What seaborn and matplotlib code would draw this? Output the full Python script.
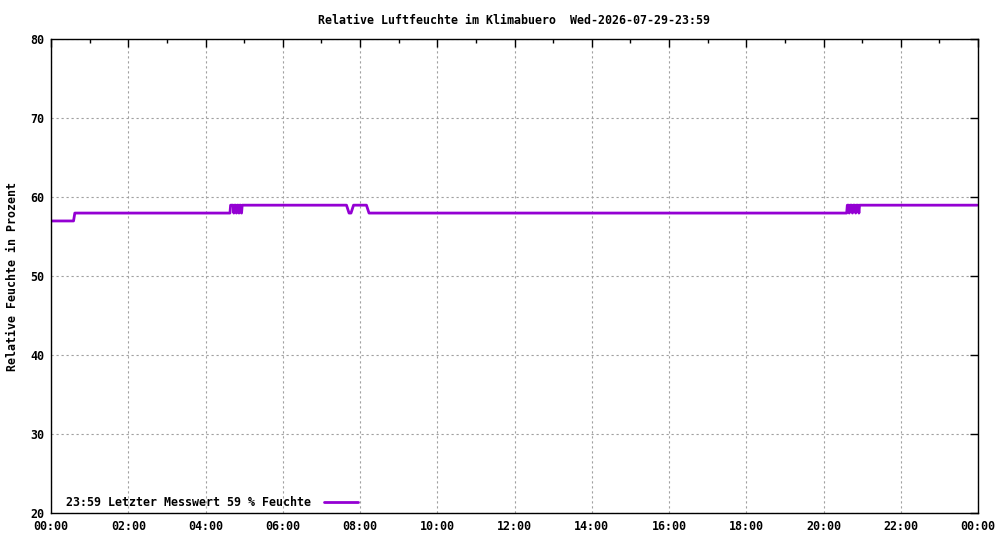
import pandas as pd
import seaborn as sns
import matplotlib.pyplot as plt
from matplotlib.ticker import MultipleLocator, FuncFormatter

# breakpoints of the humidity curve (time of day, percent)
zeiten = ['00:00', '00:35', '00:37', '04:38', '04:39', '04:43', '04:44', '04:45',
          '04:47', '04:48', '04:49', '04:51', '04:52', '04:53', '04:55', '04:56',
          '04:57', '07:39', '07:43', '07:46', '07:50', '08:10', '08:14', '20:36',
          '20:37', '20:39', '20:40', '20:41', '20:44', '20:45', '20:46', '20:49',
          '20:50', '20:51', '20:54', '20:55', '20:56', '23:59']
feuchte = [57, 57, 58, 58, 59, 59, 58, 59,
           59, 58, 59, 59, 58, 59, 59, 58,
           59, 59, 58, 58, 59, 59, 58, 58,
           59, 59, 58, 59, 59, 58, 59, 59,
           58, 59, 59, 58, 59, 59]

titel = 'Relative Luftfeuchte im Klimabuero  Wed-2026-07-29-23:59'
legende = '23:59 Letzter Messwert 59 % Feuchte'
y_label = 'Relative Feuchte in Prozent'


def to_min(t):
    h, m = t.split(':')
    return int(h) * 60 + int(m)


df = pd.DataFrame({'minute': [to_min(t) for t in zeiten], 'feuchte': feuchte})

sns.set_style('white')
plt.rcParams['font.family'] = ['DejaVu Sans Mono']
plt.rcParams['font.weight'] = 'bold'
plt.rcParams['font.size'] = 8.4
plt.rcParams['text.color'] = 'black'
plt.rcParams['axes.labelcolor'] = 'black'
plt.rcParams['xtick.color'] = 'black'
plt.rcParams['ytick.color'] = 'black'

fig = plt.figure(figsize=(10, 5.4), dpi=100)
ax = fig.add_axes([0.051, 0.05, 0.927, 0.877])

sns.lineplot(data=df, x='minute', y='feuchte', ax=ax, color='#9400d3',
             linewidth=2, label=legende)

ax.set_xlim(0, 1440)
ax.set_ylim(20, 80)
ax.xaxis.set_major_locator(MultipleLocator(120))
ax.xaxis.set_minor_locator(MultipleLocator(60))
ax.yaxis.set_major_locator(MultipleLocator(10))
ax.xaxis.set_major_formatter(FuncFormatter(lambda v, p: '%02d:%02d' % ((int(v) // 60) % 24, int(v) % 60)))

ax.grid(True, which='major', color='#a0a0a0', linestyle=(0, (2, 2.5)), linewidth=0.8)
ax.tick_params(which='both', direction='in', top=True, right=True, color='black',
               labelcolor='black', labelsize=8.4, pad=5)
ax.tick_params(which='major', length=6, width=1)
ax.tick_params(which='minor', length=3, width=1)
for s in ax.spines.values():
    s.set_color('black')
    s.set_linewidth(1)

ax.set_xlabel('')
ax.set_ylabel(y_label, fontsize=8.4, fontweight='bold', labelpad=8, color='black')
ax.set_title(titel, fontsize=8.4, fontweight='bold', pad=11, color='black')

leg = ax.legend(loc='lower left', bbox_to_anchor=(0.006, -0.012), frameon=False,
                markerfirst=False, handlelength=2.9, handletextpad=1.1,
                fontsize=8.4, borderaxespad=0.4)
for t in leg.get_texts():
    t.set_color('black')

fig.savefig('out.png', dpi=100)
